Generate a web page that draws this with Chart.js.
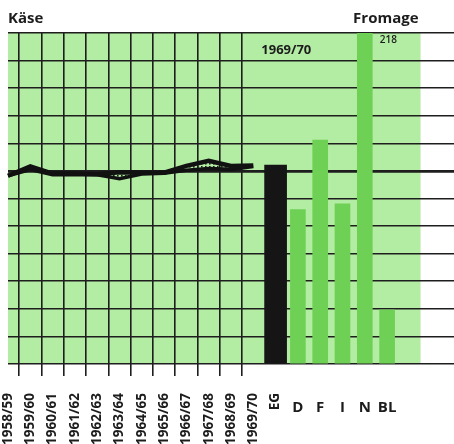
<!DOCTYPE html>
<html>
<head>
<meta charset="utf-8">
<title>Käse / Fromage</title>
<script src="https://cdn.jsdelivr.net/npm/chart.js@4/dist/chart.umd.min.js"></script>
<style>
    html, body { margin: 0; padding: 0; background: #fff; }
    #wrap { width: 454px; height: 444px; }
</style>
</head>
<body>
<div id="wrap"><canvas id="kaeseChart"></canvas></div>
<script>
// Data (self-sufficiency, %; thick grid line = 100)
const years = ['1958/59', '1959/60', '1960/61', '1961/62', '1962/63', '1963/64',
               '1964/65', '1965/66', '1966/67', '1967/68', '1968/69', '1969/70'];
const eecLabel = 'EG';
const countries = ['D', 'F', 'I', 'N', 'BL'];
const upperLine = [97.5, 102.3, 98.6, 98.6, 98.3, 99.3, 99.1, 99.1, 102.6, 105.2, 102.6, 102.8];
const lowerLine = [97.5, 100.7, 98.0, 98.0, 98.0, 96.0, 98.4, 98.8, 100.3, 101.2, 100.8, 102.3];
const eecValue = 103;
const countryValues = [80, 116, 83, 218, 28];
const titleLeft = 'Käse';
const titleRight = 'Fromage';

const PAPER = '#b3eca3';
const BAR_GREEN = '#6fd056';
const INK = '#1c1c1c';
const GRID = '#1e1e1e';
const FONT = "'Open Sans', 'DejaVu Sans', sans-serif";

// category slots: years, EG, countries, then a few empty ones for the white margin
const labels = [...years, eecLabel, ...countries, '', '', ''];
const nYears = years.length;
const eecIndex = nYears;
const firstCountry = nYears + 1;

function pad(values, start) {
    const out = new Array(labels.length).fill(null);
    values.forEach((v, i) => { out[start + i] = v; });
    return out;
}

// graph paper: 12 equal steps, 7 of them = 100
const gridLevels = Array.from({ length: 13 }, (_, i) => i * 100 / 7);

function dotPattern() {
    const c = document.createElement('canvas');
    c.width = 4;
    c.height = 3;
    const g = c.getContext('2d');
    g.fillStyle = '#222';
    g.fillRect(1, 1, 1.6, 1.6);
    return g.createPattern(c, 'repeat');
}

const paperPlugin = {
    id: 'paper',
    beforeDraw(chart) {
        const { ctx, chartArea, scales } = chart;
        ctx.save();
        ctx.fillStyle = '#fff';
        ctx.fillRect(0, 0, chart.width, chart.height);
        const right = scales.x.getPixelForValue(18.5);
        ctx.fillStyle = PAPER;
        ctx.fillRect(chartArea.left, chartArea.top, right - chartArea.left, chartArea.bottom - chartArea.top);
        ctx.restore();
    },
    afterDraw(chart) {
        const { ctx, chartArea, scales } = chart;
        const x = scales.x;
        ctx.save();
        ctx.fillStyle = INK;

        // right-hand title
        ctx.font = 'bold 15px ' + FONT;
        ctx.textAlign = 'right';
        ctx.textBaseline = 'middle';
        ctx.fillText(titleRight, x.getPixelForValue(18.5) - 2, chartArea.top - 14);

        // year of the bars
        ctx.font = 'bold 13px ' + FONT;
        ctx.textAlign = 'left';
        ctx.fillText(years[nYears - 1], x.getPixelForValue(nYears - 1) + 8, chartArea.top + 17);

        // value of the clipped bar
        const maxIdx = countryValues.indexOf(Math.max(...countryValues));
        ctx.font = '600 10px ' + FONT;
        ctx.fillText(String(countryValues[maxIdx]), x.getPixelForValue(firstCountry + maxIdx) + 15, chartArea.top + 7);

        // country labels (horizontal)
        ctx.font = 'bold 15px ' + FONT;
        ctx.textAlign = 'center';
        countries.forEach((c, i) => {
            ctx.fillText(c, x.getPixelForValue(firstCountry + i), chartArea.bottom + 44);
        });
        ctx.restore();
    }
};

new Chart(document.getElementById('kaeseChart'), {
    type: 'bar',
    data: {
        labels: labels,
        datasets: [
            {
                type: 'line',
                label: 'upper',
                data: pad(upperLine, 0),
                borderColor: '#111',
                borderWidth: 4.5,
                pointRadius: 0,
                tension: 0,
                fill: false
            },
            {
                type: 'line',
                label: 'lower',
                data: pad(lowerLine, 0),
                borderColor: '#111',
                borderWidth: 3.5,
                pointRadius: 0,
                tension: 0,
                fill: '-1',
                backgroundColor: dotPattern()
            },
            {
                label: eecLabel,
                data: pad([eecValue], eecIndex),
                backgroundColor: '#151515',
                barThickness: 22,
                grouped: false
            },
            {
                label: 'countries',
                data: pad(countryValues, firstCountry),
                backgroundColor: BAR_GREEN,
                barThickness: 15,
                grouped: false
            }
        ]
    },
    options: {
        responsive: true,
        maintainAspectRatio: false,
        animation: false,
        layout: { padding: { left: 8, right: 0, top: 0, bottom: 0 } },
        plugins: {
            legend: { display: false },
            tooltip: { enabled: false },
            title: {
                display: true,
                text: titleLeft,
                align: 'start',
                color: INK,
                font: { family: FONT, size: 15, weight: 'bold' },
                padding: { top: 10, bottom: 5 }
            }
        },
        scales: {
            x: {
                offset: false,
                grid: {
                    color: ctx => ctx.index < nYears ? GRID : 'transparent',
                    lineWidth: 1.6,
                    tickLength: 12
                },
                border: { display: false },
                ticks: {
                    autoSkip: false,
                    minRotation: 90,
                    maxRotation: 90,
                    padding: 17,
                    color: INK,
                    font: { family: FONT, size: 13.5, weight: 'bold' },
                    callback: (v, i) => i <= eecIndex ? labels[i] : ''
                },
                afterFit: axis => {
                    axis.height = 80;
                    axis.paddingLeft = 0;
                    axis.paddingRight = 0;
                }
            },
            y: {
                min: 0,
                max: gridLevels[gridLevels.length - 1],
                afterBuildTicks: axis => { axis.ticks = gridLevels.map(v => ({ value: v })); },
                ticks: { display: false },
                grid: {
                    color: GRID,
                    drawTicks: false,
                    lineWidth: ctx => (ctx.tick && Math.abs(ctx.tick.value - 100) < 0.01) ? 2.8 : 1.6
                },
                border: { display: false }
            }
        }
    },
    plugins: [paperPlugin]
});
</script>
</body>
</html>
